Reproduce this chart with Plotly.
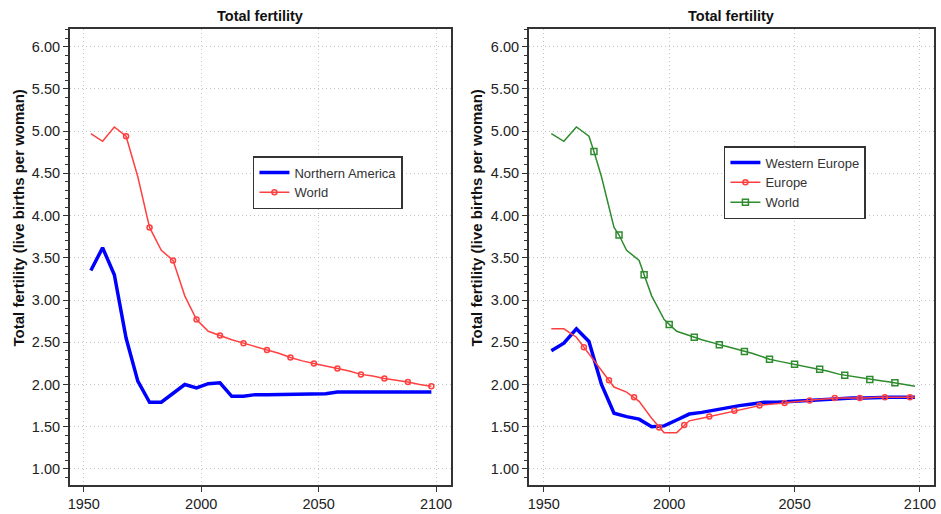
import plotly.graph_objects as go

# ---------------- data ----------------
years = [1953, 1958, 1963, 1968, 1973, 1978, 1983, 1988, 1993, 1998,
         2003, 2008, 2013, 2018, 2023, 2028, 2033, 2038, 2043, 2048,
         2053, 2058, 2063, 2068, 2073, 2078, 2083, 2088, 2093, 2098]

northern_america = [3.35, 3.62, 3.30, 2.55, 2.04, 1.79, 1.79, 1.89, 2.00, 1.96,
                    2.01, 2.02, 1.86, 1.86, 1.88, 1.88, 1.88, 1.89, 1.89, 1.89,
                    1.89, 1.91, 1.91, 1.91, 1.91, 1.91, 1.91, 1.91, 1.91, 1.91]

world = [4.97, 4.88, 5.05, 4.94, 4.46, 3.86, 3.59, 3.47, 3.05, 2.77,
         2.63, 2.58, 2.53, 2.49, 2.45, 2.41, 2.37, 2.32, 2.28, 2.25,
         2.22, 2.19, 2.16, 2.12, 2.10, 2.07, 2.05, 2.03, 2.00, 1.98]

western_europe = [2.40, 2.49, 2.66, 2.51, 2.00, 1.66, 1.62, 1.59, 1.50, 1.51,
                  1.58, 1.65, 1.67, 1.70, 1.73, 1.75, 1.77, 1.79, 1.79, 1.80,
                  1.81, 1.82, 1.83, 1.84, 1.84, 1.84, 1.85, 1.85, 1.85, 1.85]

europe = [2.66, 2.66, 2.56, 2.36, 2.16, 1.97, 1.91, 1.80, 1.60, 1.43,
          1.43, 1.57, 1.60, 1.63, 1.67, 1.70, 1.73, 1.76, 1.77, 1.79,
          1.80, 1.82, 1.83, 1.84, 1.84, 1.84, 1.85, 1.85, 1.85, 1.85]

# marker positions
world_left_marker_years = [1968, 1978, 1988, 1998, 2008, 2018, 2028, 2038,
                           2048, 2058, 2068, 2078, 2088, 2098]

europe_marker_years = [1966, 1976, 1986, 1996, 2006, 2016, 2026, 2036,
                       2046, 2056, 2066, 2076, 2086, 2096]
europe_marker_values = [2.44, 2.05, 1.85, 1.49, 1.52, 1.62, 1.69, 1.75,
                        1.78, 1.81, 1.84, 1.84, 1.85, 1.85]

world_right_marker_years = [1970, 1980, 1990, 2000, 2010, 2020, 2030,
                            2040, 2050, 2060, 2070, 2080, 2090]
world_right_marker_values = [4.76, 3.77, 3.30, 2.71, 2.56, 2.47, 2.39,
                             2.30, 2.24, 2.18, 2.11, 2.06, 2.02]

x_ticks = [1950, 2000, 2050, 2100]
panel_title = "Total fertility"
y_title = "Total fertility (live births per woman)"

# ---------------- colours ----------------
BLUE = "#0000ff"
RED = "#ff4040"
GREEN = "#2e8b2e"
FONT = "Liberation Sans, Arial, sans-serif"


def merged(xs, ys, mx, my):
    pts = dict(zip(xs, ys))
    pts.update(dict(zip(mx, my)))
    k = sorted(pts)
    return k, [pts[i] for i in k]


CIRC = dict(symbol="circle-open", size=5, color=RED, line=dict(width=1.5))
SQR = dict(symbol="square-open", size=6, color=GREEN, line=dict(width=1.5))

fig = go.Figure()

# ---------- left panel ----------
fig.add_trace(go.Scatter(x=years, y=northern_america, mode="lines",
                         line=dict(color=BLUE, width=3.5),
                         name="Northern America", legend="legend",
                         xaxis="x", yaxis="y"))
fig.add_trace(go.Scatter(x=years, y=world, mode="lines",
                         line=dict(color=RED, width=1.5),
                         showlegend=False, xaxis="x", yaxis="y"))
wl = dict(zip(years, world))
fig.add_trace(go.Scatter(x=world_left_marker_years,
                         y=[wl[y] for y in world_left_marker_years],
                         mode="markers", marker=CIRC,
                         showlegend=False, xaxis="x", yaxis="y"))
fig.add_trace(go.Scatter(x=[None], y=[None], mode="lines+markers",
                         line=dict(color=RED, width=1.5), marker=CIRC,
                         name="World", legend="legend",
                         xaxis="x", yaxis="y"))

# ---------- right panel ----------
fig.add_trace(go.Scatter(x=years, y=western_europe, mode="lines",
                         line=dict(color=BLUE, width=3.5),
                         name="Western Europe", legend="legend2",
                         xaxis="x2", yaxis="y2"))

ex, ey = merged(years, europe, europe_marker_years, europe_marker_values)
fig.add_trace(go.Scatter(x=ex, y=ey, mode="lines",
                         line=dict(color=RED, width=1.5),
                         showlegend=False, xaxis="x2", yaxis="y2"))
fig.add_trace(go.Scatter(x=europe_marker_years, y=europe_marker_values,
                         mode="markers", marker=CIRC,
                         showlegend=False, xaxis="x2", yaxis="y2"))
fig.add_trace(go.Scatter(x=[None], y=[None], mode="lines+markers",
                         line=dict(color=RED, width=1.5), marker=CIRC,
                         name="Europe", legend="legend2",
                         xaxis="x2", yaxis="y2"))

wx, wy = merged(years, world, world_right_marker_years, world_right_marker_values)
fig.add_trace(go.Scatter(x=wx, y=wy, mode="lines",
                         line=dict(color=GREEN, width=1.5),
                         showlegend=False, xaxis="x2", yaxis="y2"))
fig.add_trace(go.Scatter(x=world_right_marker_years, y=world_right_marker_values,
                         mode="markers", marker=SQR,
                         showlegend=False, xaxis="x2", yaxis="y2"))
fig.add_trace(go.Scatter(x=[None], y=[None], mode="lines+markers",
                         line=dict(color=GREEN, width=1.5), marker=SQR,
                         name="World", legend="legend2",
                         xaxis="x2", yaxis="y2"))

W, H = 941, 514
GRID = dict(showgrid=True, gridcolor="#c4c4c4", griddash="1px,3px", gridwidth=1)


def xax(domain, rng):
    return dict(domain=domain, range=rng, tickvals=x_ticks,
                showline=True, linecolor="#333", linewidth=1.5, mirror=True,
                ticks="outside", ticklen=5, tickcolor="#333",
                zeroline=False, tickfont=dict(size=14.5, color="#222", family=FONT),
                **GRID)


def yax(anchor):
    return dict(domain=[(H - 485) / H, (H - 29) / H], range=[0.81, 6.21],
                anchor=anchor, tick0=1, dtick=0.5, tickformat=".2f",
                showline=True, linecolor="#333", linewidth=1.5, mirror=True,
                ticks="outside", ticklen=5, tickcolor="#333",
                minor=dict(dtick=0.1, tick0=1, ticks="outside", ticklen=3,
                           tickcolor="#333", showgrid=False),
                zeroline=False, tickfont=dict(size=14.5, color="#222", family=FONT),
                **GRID)


xa1 = xax([68 / W, 451 / W], [1944, 2106.4])
xa1["anchor"] = "y"
xa2 = xax([529 / W, 936 / W], [1944, 2105.6])
xa2["anchor"] = "y2"

legend_common = dict(bgcolor="white", bordercolor="#333", borderwidth=1.5,
                     font=dict(size=13, color="#333", family=FONT),
                     xanchor="left", yanchor="top", tracegroupgap=0)

annotations = []
for cx in [(68 + 451) / 2 / W, (529 + 936) / 2 / W]:
    annotations.append(dict(text="<b>%s</b>" % panel_title, xref="paper", yref="paper",
                            x=cx, y=(H - 16) / H, xanchor="center", yanchor="middle",
                            showarrow=False,
                            font=dict(size=14.5, color="#111", family=FONT)))
for tx in [17 / W, 477 / W]:
    annotations.append(dict(text="<b>%s</b>" % y_title, xref="paper", yref="paper",
                            x=tx, y=(H - 217.5) / H, xanchor="center", yanchor="middle",
                            textangle=-90, showarrow=False,
                            font=dict(size=15, color="#111", family=FONT)))

fig.update_layout(
    width=W, height=H,
    margin=dict(l=0, r=0, t=0, b=0),
    paper_bgcolor="white", plot_bgcolor="white",
    xaxis=xa1, yaxis=yax("x"),
    xaxis2=xa2, yaxis2=yax("x2"),
    legend=dict(x=252 / W, y=(H - 156) / H, **legend_common),
    legend2=dict(x=725 / W, y=(H - 146) / H, **legend_common),
    annotations=annotations,
    font=dict(family=FONT),
)

fig.write_html("out.html")
